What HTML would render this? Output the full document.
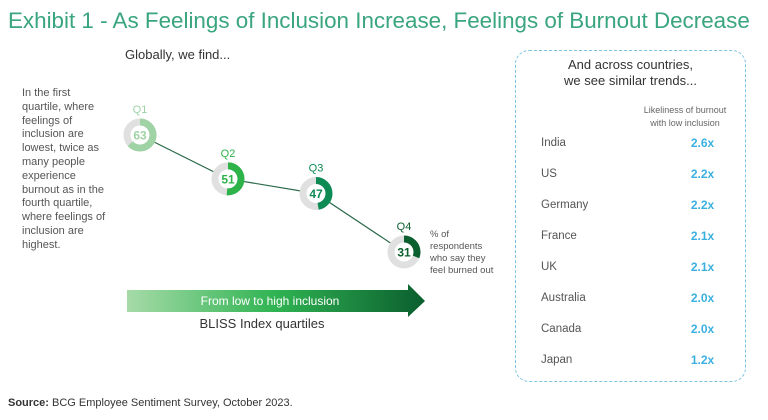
<!DOCTYPE html>
<html><head><meta charset="utf-8"><style>
body{margin:0;width:768px;height:420px;background:#fff;font-family:"Liberation Sans",sans-serif;position:relative;overflow:hidden}
.a{position:absolute;white-space:nowrap}
</style></head><body>
<div class="a" style="left:8px;top:8px;font-size:22.4px;color:#3aa57f">Exhibit 1 - As Feelings of Inclusion Increase, Feelings of Burnout Decrease</div>
<div class="a" style="left:125px;top:47px;font-size:13px;color:#333">Globally, we find...</div>
<div class="a" style="left:22px;top:87px;font-size:11px;line-height:13.8px;color:#555">In the first<br>quartile, where<br>feelings of<br>inclusion are<br>lowest, twice as<br>many people<br>experience<br>burnout as in the<br>fourth quartile,<br>where feelings of<br>inclusion are<br>highest.</div>
<div class="a" style="left:430px;top:229px;font-size:9.5px;line-height:12px;color:#555">% of<br>respondents<br>who say they<br>feel burned out</div>
<svg class="a" style="left:0;top:0" width="768" height="420" id="chart">
<defs><linearGradient id="g" x1="0" x2="1"><stop offset="0" stop-color="#a6dba8"/><stop offset="0.5" stop-color="#2fb352"/><stop offset="1" stop-color="#0b5e2e"/></linearGradient></defs>
<polygon points="127,290 408,290 408,284 425,301 408,317 408,312 127,312" fill="url(#g)"/>
<text x="270" y="305" text-anchor="middle" font-size="12" fill="#fff">From low to high inclusion</text>
<text x="262" y="328" text-anchor="middle" font-size="13" fill="#333">BLISS Index quartiles</text>
</svg>
<div class="a" style="left:515px;top:50px;width:229px;height:330px;border:1.5px dashed #7cc3e0;border-radius:14px"></div>
<div class="a" style="left:515px;top:57px;width:231px;text-align:center;font-size:13px;line-height:16px;color:#333">And across countries,<br>we see similar trends...</div>
<div class="a" style="left:630px;top:104px;width:110px;text-align:center;font-size:9px;line-height:12.5px;color:#666">Likeliness of burnout<br>with low inclusion</div>
<div id="rows"></div>
<div class="a" style="left:8px;top:397px;font-size:11px;color:#333"><b>Source:</b> BCG Employee Sentiment Survey, October 2023.</div>
<script>
const quartiles=["Q1","Q2","Q3","Q4"];
const burnout=[63,51,47,31];
const countries=["India","US","Germany","France","UK","Australia","Canada","Japan"];
const ratios=[2.6,2.2,2.2,2.1,2.1,2.0,2.0,1.2];
const colors=["#9fd3a5","#2db34a","#0e8a55","#0b5e2e"];
const NS="http://www.w3.org/2000/svg";
const svg=document.getElementById('chart');
const xq=i=>140+i*88;
const yv=v=>135+(63-v)*3.656;
function mk(t,a){const e=document.createElementNS(NS,t);for(const k in a)e.setAttribute(k,a[k]);svg.appendChild(e);return e;}
const pts=burnout.map((v,i)=>xq(i)+','+yv(v)).join(' ');
const ln=mk('polyline',{points:pts,fill:'none',stroke:'#2d6b4a','stroke-width':1.2});


const r=13,C=2*Math.PI*r;
burnout.forEach((v,i)=>{
  const cx=xq(i),cy=yv(v);
  const bg=mk('circle',{cx:cx,cy:cy,r:r,fill:'#fff',stroke:'#e0e0e0','stroke-width':7});
  
  
  const arc=mk('circle',{cx:cx,cy:cy,r:r,fill:'none',stroke:colors[i],'stroke-width':7,'stroke-dasharray':(C*v/100)+' '+C,transform:`rotate(-90 ${cx} ${cy})`});
  
  
  const t=mk('text',{x:cx,y:cy+4.5,'text-anchor':'middle','font-size':12,'font-weight':'bold',fill:i==0?'#9fd3a5':colors[i]});
  t.textContent=v;
  
  
  const q=mk('text',{x:cx,y:cy-22,'text-anchor':'middle','font-size':11,fill:i==0?'#9fd3a5':colors[i]});
  q.textContent=quartiles[i];
  
  
});
const rows=document.getElementById('rows');
countries.forEach((c,i)=>{
  const y=136+i*31;
  const a=document.createElement('div');a.className='a';a.style.cssText=`left:541px;top:${y}px;font-size:11.5px;line-height:14px;color:#555`;a.textContent=c;
  
  
  rows.appendChild(a);
  const b=document.createElement('div');b.className='a';b.style.cssText=`left:680px;width:45px;text-align:center;top:${y}px;font-size:12px;line-height:14px;font-weight:bold;color:#3bb0e0`;b.textContent=ratios[i].toFixed(1)+'x';
  
  
  rows.appendChild(b);
});
</script>
</body></html>
